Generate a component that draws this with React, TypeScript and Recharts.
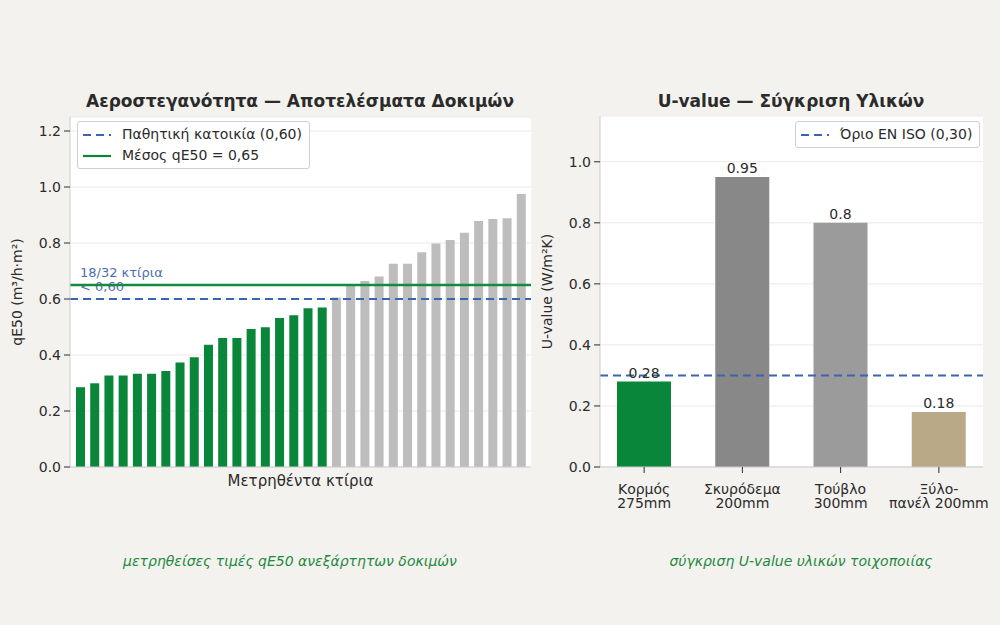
import React from "react";
import {
  BarChart,
  Bar,
  Cell,
  XAxis,
  YAxis,
  CartesianGrid,
  ReferenceLine,
  LabelList,
} from "recharts";

// measured air tightness (qE50) per tested building, sorted ascending
const qE50Values = [
  0.285, 0.299, 0.327, 0.327, 0.333, 0.333, 0.343, 0.373, 0.392, 0.437, 0.461,
  0.461, 0.493, 0.499, 0.532, 0.542, 0.567, 0.57, 0.605, 0.653, 0.664, 0.68,
  0.726, 0.726, 0.767, 0.798, 0.811, 0.837, 0.879, 0.886, 0.888, 0.975,
];
const passiveLimit = 0.6;
const meanQE50 = 0.65;
const qE50Ticks = [0, 0.2, 0.4, 0.6, 0.8, 1.0, 1.2];

// wall materials: tick label lines and U-values
const materialLines = [
  ["Κορμός", "275mm"],
  ["Σκυρόδεμα", "200mm"],
  ["Τούβλο", "300mm"],
  ["Ξύλο-", "πανέλ 200mm"],
];
const uValues = [0.28, 0.95, 0.8, 0.18];
const materialColors = ["#0a863b", "#888888", "#9b9b9b", "#baa986"];
const isoLimit = 0.3;
const uTicks = [0, 0.2, 0.4, 0.6, 0.8, 1.0];

const GREEN = "#0a863b";
const BLUE = "#3a64b5";
const TEXT = "#2b2b2b";
const FONT = "'DejaVu Sans', sans-serif";

const buildingData = qE50Values.map((v, i) => ({ id: `Κ${i + 1}`, qE50: v }));
const belowCount = qE50Values.filter((v) => v < passiveLimit).length;

const materialData = materialLines.map((lines, i) => ({
  name: lines.join(" "),
  u: uValues[i],
}));

const tickStyle = { fill: TEXT, fontSize: 14, fontFamily: FONT };

const LimitNote = (props: any) => {
  const { viewBox } = props;
  const x = viewBox.x + 10;
  return (
    <text x={x} y={viewBox.y - 22} fill="#4a6fb0" fontSize={13} fontFamily={FONT}>
      <tspan x={x}>{`${belowCount}/${qE50Values.length} κτίρια`}</tspan>
      <tspan x={x} dy={14}>
        {"< 0,60"}
      </tspan>
    </text>
  );
};

const MaterialTick = (props: any) => {
  const { x, y, payload } = props;
  const lines = materialLines[payload.index];
  return (
    <text x={x} y={y} textAnchor="middle" fill={TEXT} fontSize={14} fontFamily={FONT}>
      {lines.map((l, i) => (
        <tspan key={i} x={x} dy={i === 0 ? 19 : 14}>
          {l}
        </tspan>
      ))}
    </text>
  );
};

const legendBox: React.CSSProperties = {
  position: "absolute",
  top: 121,
  background: "rgba(255,255,255,0.9)",
  border: "1px solid #cfcfcf",
  borderRadius: 3,
  padding: "2px 7px 2px 4px",
  fontSize: 14,
  fontFamily: FONT,
  color: TEXT,
  lineHeight: "21px",
};

const LegendRow = ({ color, dashed, label }: { color: string; dashed?: boolean; label: string }) => (
  <div style={{ display: "flex", alignItems: "center" }}>
    <svg width={30} height={10} style={{ marginRight: 10 }}>
      <line
        x1={1}
        x2={29}
        y1={5}
        y2={5}
        stroke={color}
        strokeWidth={2.2}
        strokeDasharray={dashed ? "8 5" : undefined}
      />
    </svg>
    <span>{label}</span>
  </div>
);

const titleStyle: React.CSSProperties = {
  position: "absolute",
  top: 91,
  fontSize: 17,
  fontWeight: "bold",
  fontFamily: FONT,
  color: TEXT,
  textAlign: "center",
};

const captionStyle: React.CSSProperties = {
  position: "absolute",
  top: 553,
  fontSize: 14,
  fontStyle: "italic",
  fontFamily: FONT,
  color: "#1f8a3f",
  textAlign: "center",
};

export default function App() {
  return (
    <div
      style={{
        position: "absolute",
        left: 0,
        top: 0,
        width: 1000,
        height: 625,
        background: "#f3f2ee",
        overflow: "hidden",
      }}
    >
      <div style={{ ...titleStyle, left: 50, width: 500 }}>
        Αεροστεγανότητα — Αποτελέσματα Δοκιμών
      </div>
      <div style={{ ...titleStyle, left: 591, width: 400 }}>U-value — Σύγκριση Υλικών</div>

      <div style={{ position: "absolute", left: 0, top: 0 }}>
        <BarChart
          width={540}
          height={625}
          data={buildingData}
          margin={{ top: 117, right: 9, bottom: 128, left: 10 }}
          barSize={9}
        >
          <CartesianGrid vertical={false} stroke="#e9e9e9" fill="#ffffff" />
          <XAxis
            dataKey="id"
            tick={false}
            tickLine={false}
            height={30}
            padding={{ left: 3, right: 3 }}
            axisLine={{ stroke: "#cccccc" }}
            label={{
              value: "Μετρηθέντα κτίρια",
              position: "insideTop",
              offset: 8,
              fill: TEXT,
              fontSize: 15,
              fontFamily: FONT,
            }}
          />
          <YAxis
            width={60}
            domain={[0, 1.25]}
            ticks={qE50Ticks}
            tickFormatter={(v: number) => v.toFixed(1)}
            tick={tickStyle}
            tickSize={6}
            tickMargin={3}
            tickLine={{ stroke: TEXT }}
            axisLine={{ stroke: "#cccccc" }}
            label={{
              value: "qE50 (m³/h·m²)",
              angle: -90,
              position: "insideLeft",
              offset: 7,
              textAnchor: "middle",
              fill: TEXT,
              fontSize: 14,
              fontFamily: FONT,
            }}
          />
          <Bar dataKey="qE50" isAnimationActive={false}>
            {buildingData.map((d) => (
              <Cell key={d.id} fill={d.qE50 < passiveLimit ? GREEN : "#bdbdbd"} />
            ))}
          </Bar>
          <ReferenceLine
            y={passiveLimit}
            stroke={BLUE}
            strokeWidth={2}
            strokeDasharray="8 5"
            label={<LimitNote />}
          />
          <ReferenceLine y={meanQE50} stroke="#158a3c" strokeWidth={2.5} />
        </BarChart>
      </div>

      <div style={{ position: "absolute", left: 540, top: 0 }}>
        <BarChart
          width={460}
          height={625}
          data={materialData}
          margin={{ top: 116, right: 17, bottom: 108, left: 2 }}
          barSize={54}
        >
          <CartesianGrid vertical={false} stroke="#e9e9e9" fill="#ffffff" />
          <XAxis
            dataKey="name"
            height={50}
            interval={0}
            padding={{ left: -5, right: -5 }}
            tick={<MaterialTick />}
            tickSize={6}
            tickMargin={2}
            tickLine={{ stroke: TEXT }}
            axisLine={{ stroke: "#cccccc" }}
          />
          <YAxis
            width={58}
            domain={[0, 1.15]}
            ticks={uTicks}
            tickFormatter={(v: number) => v.toFixed(1)}
            tick={tickStyle}
            tickSize={6}
            tickMargin={3}
            tickLine={{ stroke: TEXT }}
            axisLine={{ stroke: "#cccccc" }}
            label={{
              value: "U-value (W/m²K)",
              angle: -90,
              position: "insideLeft",
              offset: 5,
              textAnchor: "middle",
              fill: TEXT,
              fontSize: 14,
              fontFamily: FONT,
            }}
          />
          <Bar dataKey="u" isAnimationActive={false}>
            {materialData.map((d, i) => (
              <Cell key={d.name} fill={materialColors[i]} />
            ))}
            <LabelList
              dataKey="u"
              position="top"
              offset={4}
              fill={TEXT}
              fontSize={14}
              fontFamily={FONT}
            />
          </Bar>
          <ReferenceLine y={isoLimit} stroke={BLUE} strokeWidth={2} strokeDasharray="8 5" />
        </BarChart>
      </div>

      {/* legends sit over the plot areas */}
      <div style={{ ...legendBox, left: 77 }}>
        <LegendRow color={BLUE} dashed label="Παθητική κατοικία (0,60)" />
        <LegendRow color={GREEN} label="Μέσος qE50 = 0,65" />
      </div>
      <div style={{ ...legendBox, left: 795 }}>
        <LegendRow color={BLUE} dashed label="Όριο EN ISO (0,30)" />
      </div>

      <div style={{ ...captionStyle, left: 40, width: 500 }}>
        μετρηθείσες τιμές qE50 ανεξάρτητων δοκιμών
      </div>
      <div style={{ ...captionStyle, left: 551, width: 500 }}>
        σύγκριση U-value υλικών τοιχοποιίας
      </div>
    </div>
  );
}
